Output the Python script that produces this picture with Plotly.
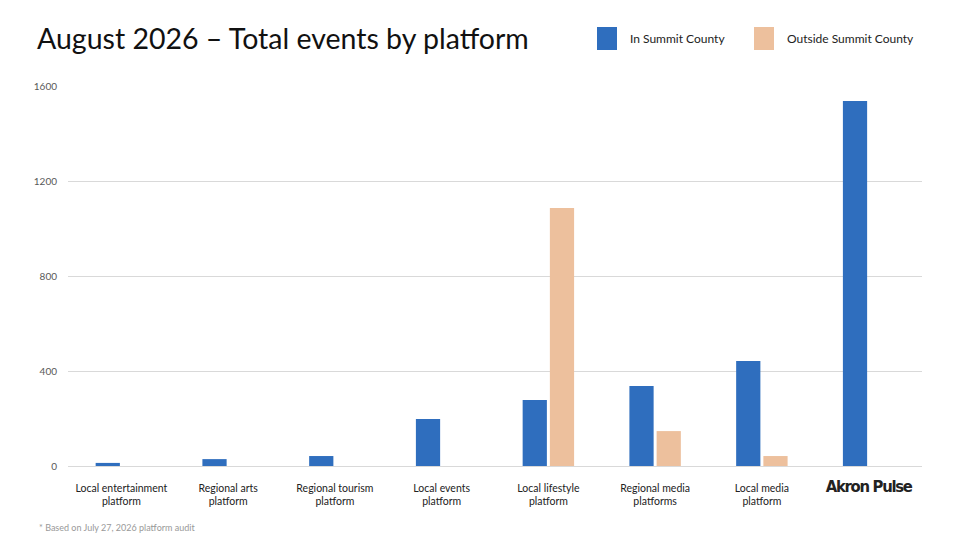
import plotly.graph_objects as go

categories = ["Local entertainment platform", "Regional arts platform",
              "Regional tourism platform", "Local events platform",
              "Local lifestyle platform", "Regional media platforms",
              "Local media platform", "Akron Pulse"]
tick_labels = ["Local entertainment<br>platform", "Regional arts<br>platform",
               "Regional tourism<br>platform", "Local events<br>platform",
               "Local lifestyle<br>platform", "Regional media<br>platforms",
               "Local media<br>platform",
               "<span style='font-family:\"Liberation Sans Narrow\", \"DejaVu Sans Condensed\", Impact;"
               "font-stretch:condensed;font-size:16.5px;letter-spacing:-1.3px;font-weight:bold'>"
               "<b>Akron Pulse</b></span>"]
in_summit = [13, 29, 42, 198, 278, 337, 442, 1537]
outside_summit = [0, 0, 0, 0, 1086, 147, 42, 0]
y_ticks = [0, 400, 800, 1200, 1600]

BLUE = "#2F6EBE"
PEACH = "#EDC09D"
FONT = "Lato, 'Open Sans', sans-serif"

# page body adds an 8px offset, so the figure is 952x532 and positions are shifted by -8
W, H = 952, 532
L, R, T, B = 60, 38, 78, 74
PW, PH = W - L - R, H - T - B


def px(x):
    return (x - 8 - L) / PW


def py(y):
    return (H - (y - 8) - B) / PH


fig = go.Figure()
fig.add_trace(go.Bar(x=categories, y=in_summit, name="In Summit County",
                     marker=dict(color=BLUE, line=dict(width=0))))
fig.add_trace(go.Bar(x=categories, y=outside_summit, name="Outside Summit County",
                     marker=dict(color=PEACH, line=dict(width=0))))

fig.update_layout(
    width=W, height=H,
    paper_bgcolor="white", plot_bgcolor="white",
    margin=dict(l=L, r=R, t=T, b=B),
    barmode="group", bargap=0.49, bargroupgap=0.11,
    showlegend=False,
    font=dict(family=FONT, color="#222"),
    xaxis=dict(tickmode="array", tickvals=categories, ticktext=tick_labels,
               tickfont=dict(size=10.5, color="#222"), showgrid=False,
               showline=False, ticks="", ticklabelstandoff=14),
    yaxis=dict(range=[0, 1600], tickvals=y_ticks, tickfont=dict(size=10, color="#595959"),
               gridcolor="#D9D9D9", gridwidth=1, zeroline=True, zerolinecolor="#D9D9D9",
               zerolinewidth=1, showline=False, ticks="", ticklabelstandoff=10),
)

fig.add_annotation(text="August 2026 – Total events by platform", xref="paper", yref="paper",
                   x=px(35), y=py(38), xanchor="left", yanchor="middle", showarrow=False,
                   font=dict(size=28.5, color="#111", family=FONT))

# legend drawn as large swatches like the original slide
legend_items = [("In Summit County", BLUE, 597), ("Outside Summit County", PEACH, 754)]
for name, color, x0 in legend_items:
    fig.add_shape(type="rect", xref="paper", yref="paper",
                  x0=px(x0), x1=px(x0 + 20), y0=py(50), y1=py(27),
                  fillcolor=color, line=dict(width=0))
    fig.add_annotation(text=name, xref="paper", yref="paper",
                       x=px(x0 + 31), y=py(39), xanchor="left", yanchor="middle",
                       showarrow=False, font=dict(size=12, color="#222", family=FONT))

fig.add_annotation(text="* Based on July 27, 2026 platform audit", xref="paper", yref="paper",
                   x=px(37), y=py(527), xanchor="left", yanchor="middle",
                   showarrow=False, font=dict(size=9, color="#999", family=FONT))

fig.write_html("out.html")
